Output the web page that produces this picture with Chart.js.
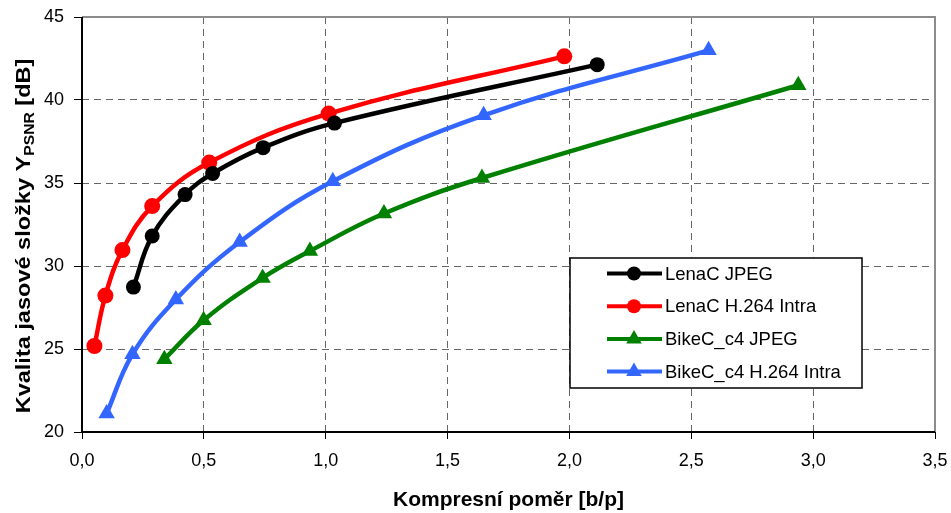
<!DOCTYPE html>
<html>
<head>
<meta charset="utf-8">
<script src="https://cdn.jsdelivr.net/npm/chart.js@4"></script>
<style>
  html, body { margin: 0; padding: 0; background: #fff; }
  #wrap { width: 951px; height: 513px; }
</style>
</head>
<body>
<div id="wrap"><canvas id="chart" width="951" height="513"></canvas></div>
<script>
// values
const lenaJpegX = [0.211, 0.288, 0.423, 0.536, 0.743, 1.036, 2.114];
const lenaJpegY = [28.73, 31.81, 34.30, 35.57, 37.13, 38.61, 42.13];

const lenaH264X = [0.051, 0.096, 0.166, 0.288, 0.522, 1.012, 1.979];
const lenaH264Y = [25.18, 28.22, 30.96, 33.61, 36.23, 39.18, 42.63];

const bikeJpegX = [0.338, 0.499, 0.741, 0.935, 1.239, 1.641, 2.939];
const bikeJpegY = [24.38, 26.73, 29.28, 30.90, 33.16, 35.30, 40.89];

const bikeH264X = [0.101, 0.207, 0.385, 0.647, 1.029, 1.648, 2.571];
const bikeH264Y = [21.11, 24.68, 27.98, 31.45, 35.10, 39.08, 42.99];

const seriesNames = ['LenaC JPEG', 'LenaC H.264 Intra', 'BikeC_c4 JPEG', 'BikeC_c4 H.264 Intra'];

const xTitle = 'Kompresní poměr [b/p]';
const yTitleMain = 'Kvalita jasové složky Y';
const yTitleSub = 'PSNR';
const yTitleEnd = ' [dB]';

const FONT = '"Liberation Sans", Arial, sans-serif';

function pts(xs, ys) {
  return xs.map((x, i) => ({ x: x, y: ys[i] }));
}

function series(label, xs, ys, color, style, r) {
  return {
    label: label,
    data: pts(xs, ys),
    borderColor: color,
    backgroundColor: color,
    borderWidth: 4.5,
    pointStyle: style,
    pointRadius: r,
    pointHoverRadius: r,
    pointBorderWidth: 0,
    tension: 0.4,
    fill: false
  };
}

// gray top/right border, black axes
const frame = {
  id: 'frame',
  afterDraw(chart) {
    const { ctx, chartArea: a } = chart;
    ctx.save();
    ctx.strokeStyle = '#8c8c8c';
    ctx.lineWidth = 2;
    ctx.beginPath();
    ctx.moveTo(a.left, a.top);
    ctx.lineTo(a.right, a.top);
    ctx.lineTo(a.right, a.bottom);
    ctx.stroke();
    ctx.strokeStyle = '#000';
    ctx.beginPath();
    ctx.moveTo(a.left, a.top);
    ctx.lineTo(a.left, a.bottom);
    ctx.lineTo(a.right, a.bottom);
    ctx.stroke();
    ctx.restore();
  }
};

// y title with subscript (a bit stretched along the text, like the original)
const yTitle = {
  id: 'yTitle',
  afterDraw(chart) {
    const ctx = chart.ctx;
    const big = 'bold 21px ' + FONT;
    const small = 'bold 14px ' + FONT;
    ctx.save();
    ctx.font = big;
    const w1 = ctx.measureText(yTitleMain).width;
    const w3 = ctx.measureText(yTitleEnd).width;
    ctx.font = small;
    const w2 = ctx.measureText(yTitleSub).width;
    const total = w1 + w2 + w3;
    ctx.translate(30, 236);
    ctx.rotate(-Math.PI / 2);
    ctx.scale(1.12, 1);
    ctx.fillStyle = '#000';
    ctx.textBaseline = 'alphabetic';
    ctx.textAlign = 'left';
    let x = -total / 2;
    ctx.font = big;
    ctx.fillText(yTitleMain, x, 0);
    x += w1;
    ctx.font = small;
    ctx.fillText(yTitleSub, x, 4);
    x += w2;
    ctx.font = big;
    ctx.fillText(yTitleEnd, x, 0);
    ctx.restore();
  }
};

// legend box inside the plot
const boxLegend = {
  id: 'boxLegend',
  afterDraw(chart) {
    const ctx = chart.ctx;
    const left = 570, top = 258, right = 862, bottom = 388;
    ctx.save();
    ctx.fillStyle = '#fff';
    ctx.fillRect(left, top, right - left, bottom - top);
    ctx.strokeStyle = '#000';
    ctx.lineWidth = 1.5;
    ctx.strokeRect(left, top, right - left, bottom - top);
    ctx.font = '18.5px ' + FONT;
    ctx.textBaseline = 'middle';
    chart.data.datasets.forEach((ds, i) => {
      const y = 273.5 + i * 32.7;
      ctx.strokeStyle = ds.borderColor;
      ctx.lineWidth = 4;
      ctx.beginPath();
      ctx.moveTo(607, y);
      ctx.lineTo(662, y);
      ctx.stroke();
      ctx.fillStyle = ds.backgroundColor;
      const cx = 634;
      if (ds.pointStyle === 'triangle') {
        const r = 9;
        ctx.beginPath();
        ctx.moveTo(cx, y - r);
        ctx.lineTo(cx + r * 0.866, y + r * 0.5);
        ctx.lineTo(cx - r * 0.866, y + r * 0.5);
        ctx.closePath();
        ctx.fill();
      } else {
        ctx.beginPath();
        ctx.arc(cx, y, 7, 0, Math.PI * 2);
        ctx.fill();
      }
      ctx.fillStyle = '#000';
      ctx.fillText(ds.label, 665, y + 1);
    });
    ctx.restore();
  }
};

new Chart(document.getElementById('chart'), {
  type: 'line',
  data: {
    datasets: [
      series(seriesNames[0], lenaJpegX, lenaJpegY, '#000000', 'circle', 7.5),
      series(seriesNames[1], lenaH264X, lenaH264Y, '#ff0000', 'circle', 8),
      series(seriesNames[2], bikeJpegX, bikeJpegY, '#008000', 'triangle', 9.5),
      series(seriesNames[3], bikeH264X, bikeH264Y, '#3366ff', 'triangle', 9.5)
    ]
  },
  options: {
    responsive: false,
    animation: false,
    events: [],
    layout: { padding: { left: 0, top: 17, right: 16, bottom: 0 } },
    plugins: {
      legend: { display: false },
      tooltip: { enabled: false }
    },
    scales: {
      x: {
        type: 'linear',
        min: 0,
        max: 3.5,
        afterFit: s => { s.height = 81; s.paddingLeft = 0; s.paddingRight = 0; },
        ticks: {
          stepSize: 0.5,
          color: '#000',
          font: { family: FONT, size: 18 },
          padding: 11,
          maxRotation: 0,
          callback: v => v.toFixed(1).replace('.', ',')
        },
        grid: {
          color: '#666',
          tickColor: '#000',
          tickLength: 7,
          tickBorderDash: []
        },
        border: { display: false, dash: [7, 5] },
        title: {
          display: true,
          text: xTitle,
          color: '#000',
          font: { family: FONT, size: 21, weight: 'bold' },
          padding: { top: 8, bottom: 0 }
        }
      },
      y: {
        min: 20,
        max: 45,
        afterFit: s => { s.width = 82; s.paddingTop = 0; s.paddingBottom = 0; },
        ticks: {
          stepSize: 5,
          color: '#000',
          font: { family: FONT, size: 18 },
          padding: 10
        },
        grid: {
          color: '#666',
          tickColor: '#000',
          tickLength: 8,
          tickBorderDash: []
        },
        border: { display: false, dash: [7, 5] }
      }
    }
  },
  plugins: [frame, yTitle, boxLegend]
});
</script>
</body>
</html>
